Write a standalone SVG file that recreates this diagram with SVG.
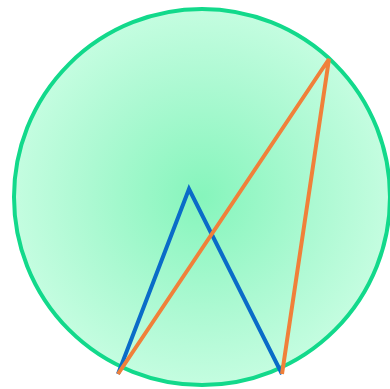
<svg xmlns="http://www.w3.org/2000/svg" width="390" height="389" viewBox="0 0 390 389">
<defs>
<radialGradient id="g" cx="0.5" cy="0.5" r="0.5">
<stop offset="0" stop-color="#86f5bc"/>
<stop offset="0.6" stop-color="#acf9d2"/>
<stop offset="1" stop-color="#c4fde0"/>
</radialGradient>
<style>
.edge{fill:none;stroke-width:4;stroke-linecap:butt;stroke-linejoin:miter}
</style>
</defs>
<g id="circle">
<circle cx="202" cy="197" r="188" fill="url(#g)" stroke="#12d98b" stroke-width="4"/>
</g>
<g id="connectors">
<polyline class="edge" points="118,374 189,189 282,374" stroke="#0a6cc8"/>
<polyline class="edge" points="118,374 329,59 282,374" stroke="#f0803a"/>
</g>
</svg>
